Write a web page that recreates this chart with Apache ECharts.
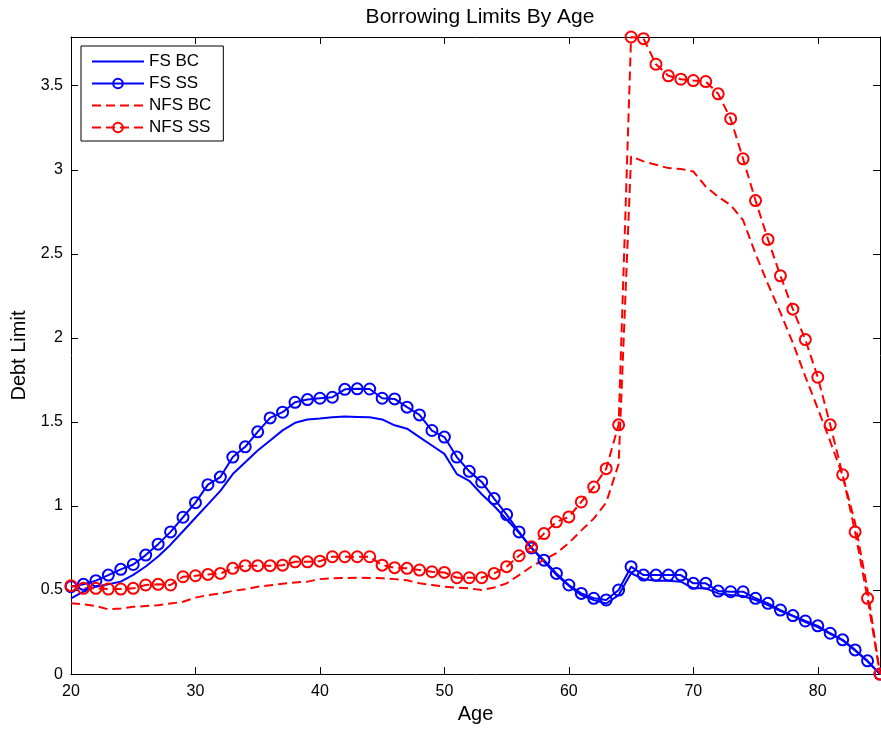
<!DOCTYPE html>
<html>
<head>
<meta charset="utf-8">
<script src="https://cdn.jsdelivr.net/npm/echarts@6/dist/echarts.min.js"></script>
<style>
html,body{margin:0;padding:0;background:#fff;}
#chart{width:881px;height:729px;}
</style>
</head>
<body>
<div id="chart"></div>
<script>
const ages = [];
for (let a = 20; a <= 85; a++) ages.push(a);

const fsBC = [0.45,0.49,0.52,0.535,0.55,0.59,0.64,0.70,0.77,0.85,0.93,1.01,1.09,1.19,1.26,1.33,1.39,1.45,1.495,1.515,1.52,1.528,1.532,1.53,1.528,1.515,1.48,1.46,1.41,1.36,1.31,1.19,1.15,1.07,1.00,0.92,0.84,0.75,0.67,0.59,0.525,0.47,0.44,0.42,0.47,0.60,0.565,0.555,0.555,0.55,0.51,0.51,0.48,0.47,0.465,0.44,0.41,0.375,0.345,0.31,0.28,0.24,0.20,0.14,0.075,0];

const fsSS = [0.52,0.534,0.556,0.589,0.623,0.652,0.708,0.773,0.846,0.933,1.02,1.127,1.172,1.291,1.352,1.441,1.524,1.558,1.617,1.633,1.641,1.647,1.694,1.697,1.696,1.641,1.637,1.588,1.542,1.449,1.41,1.291,1.206,1.143,1.044,0.949,0.846,0.75,0.678,0.599,0.53,0.48,0.451,0.441,0.50,0.639,0.589,0.589,0.589,0.589,0.540,0.540,0.494,0.490,0.490,0.451,0.421,0.381,0.348,0.316,0.287,0.243,0.204,0.144,0.079,0];

const nfsBC = [0.421,0.415,0.405,0.385,0.39,0.40,0.405,0.41,0.42,0.43,0.455,0.47,0.48,0.495,0.505,0.52,0.528,0.538,0.545,0.55,0.565,0.57,0.572,0.573,0.572,0.57,0.565,0.558,0.54,0.53,0.52,0.514,0.51,0.50,0.515,0.54,0.589,0.64,0.68,0.72,0.78,0.855,0.925,1.02,1.25,3.08,3.05,3.03,3.01,3.005,2.99,2.90,2.84,2.79,2.70,2.50,2.32,2.15,1.97,1.77,1.58,1.385,1.18,0.90,0.50,0];

const nfsSS = [0.526,0.51,0.51,0.506,0.506,0.51,0.53,0.534,0.53,0.579,0.585,0.593,0.599,0.629,0.645,0.645,0.645,0.648,0.668,0.668,0.672,0.698,0.698,0.698,0.698,0.648,0.633,0.629,0.619,0.609,0.605,0.573,0.573,0.573,0.599,0.639,0.704,0.757,0.836,0.906,0.935,1.024,1.113,1.222,1.483,3.79,3.78,3.628,3.559,3.539,3.531,3.525,3.452,3.304,3.065,2.817,2.586,2.369,2.171,1.99,1.766,1.483,1.186,0.846,0.451,0];

const seriesNames = ['FS BC','FS SS','NFS BC','NFS SS'];
const xTicks = [20,30,40,50,60,70,80];
const yTicks = [0,0.5,1,1.5,2,2.5,3,3.5];

const FONT = '"Liberation Sans", Arial, Helvetica, sans-serif';
const BLUE = '#0000ff', RED = '#ff0000';

function pairs(vals){ return ages.map((a,i)=>[a, vals[i]]); }

function mkSeries(name, vals, color, dashed, markers){
  return {
    name: name, type: 'line', data: pairs(vals), clip: false,
    xAxisIndex: 0, yAxisIndex: 0,
    symbol: markers ? 'circle' : 'none',
    symbolSize: 11,
    showSymbol: markers,
    lineStyle: {color: color, width: 2, type: dashed ? [9,5] : 'solid'},
    itemStyle: {color: markers ? 'rgba(255,255,255,0)' : color, borderColor: color, borderWidth: 2},
    emphasis: {disabled: true},
    animation: false
  };
}

const axisCommonX = {
  type: 'value', min: 20, max: 85, interval: 10,
  axisLine: {show: true, onZero: false, lineStyle: {color: '#000', width: 1}},
  axisTick: {show: true, inside: true, length: 7, lineStyle: {color: '#000', width: 1}},
  splitLine: {show: false}
};
const axisCommonY = {
  type: 'value', min: 0, max: 3.79, interval: 0.5,
  axisLine: {show: true, onZero: false, lineStyle: {color: '#000', width: 1}},
  axisTick: {show: true, inside: true, length: 7, lineStyle: {color: '#000', width: 1}},
  splitLine: {show: false}
};

const noSym = {opacity: 0, color: 'rgba(0,0,0,0)', borderWidth: 0};

const chart = echarts.init(document.getElementById('chart'), null, {renderer: 'canvas'});
chart.setOption({
  backgroundColor: '#fff',
  animation: false,
  textStyle: {fontFamily: FONT},
  title: {
    text: 'Borrowing Limits By Age', left: 475, top: 2, textAlign: 'center',
    textStyle: {fontFamily: FONT, fontSize: 21, fontWeight: 'normal', color: '#000'}
  },
  grid: {left: 71, right: 1, top: 37, bottom: 54, containLabel: false},
  legend: {
    data: [
      {name: 'FS BC', itemStyle: noSym},
      {name: 'FS SS'},
      {name: 'NFS BC', itemStyle: noSym},
      {name: 'NFS SS'}
    ],
    orient: 'vertical', left: 81, top: 46,
    padding: [7, 12, 5, 10], itemGap: 5, itemWidth: 52, itemHeight: 12,
    backgroundColor: '#fff', borderColor: '#000', borderWidth: 1, borderRadius: 0,
    textStyle: {fontFamily: FONT, fontSize: 17, color: '#000'},
    selectedMode: false
  },
  xAxis: [
    Object.assign({}, axisCommonX, {
      position: 'bottom', name: 'Age', nameLocation: 'middle', nameGap: 27,
      nameTextStyle: {fontFamily: FONT, fontSize: 20, color: '#000'},
      axisLabel: {show: true, color: '#000', fontSize: 16, fontFamily: FONT, margin: 9,
        showMinLabel: true, showMaxLabel: false,
        formatter: v => (xTicks.indexOf(v) >= 0 ? String(v) : '')}
    }),
    Object.assign({}, axisCommonX, {position: 'top', axisLabel: {show: false}})
  ],
  yAxis: [
    Object.assign({}, axisCommonY, {
      position: 'left', name: 'Debt Limit', nameLocation: 'middle', nameGap: 37, nameRotate: 90,
      nameTextStyle: {fontFamily: FONT, fontSize: 20, color: '#000'},
      axisLabel: {show: true, color: '#000', fontSize: 16, fontFamily: FONT, margin: 8,
        showMinLabel: true, showMaxLabel: false,
        formatter: v => { const t = yTicks.find(k => Math.abs(k - v) < 1e-9); return t === undefined ? '' : String(t); }}
    }),
    Object.assign({}, axisCommonY, {position: 'right', axisLabel: {show: false}})
  ],
  series: [
    mkSeries('FS BC', fsBC, BLUE, false, false),
    mkSeries('FS SS', fsSS, BLUE, false, true),
    mkSeries('NFS BC', nfsBC, RED, true, false),
    mkSeries('NFS SS', nfsSS, RED, true, true)
  ]
});
</script>
</body>
</html>
